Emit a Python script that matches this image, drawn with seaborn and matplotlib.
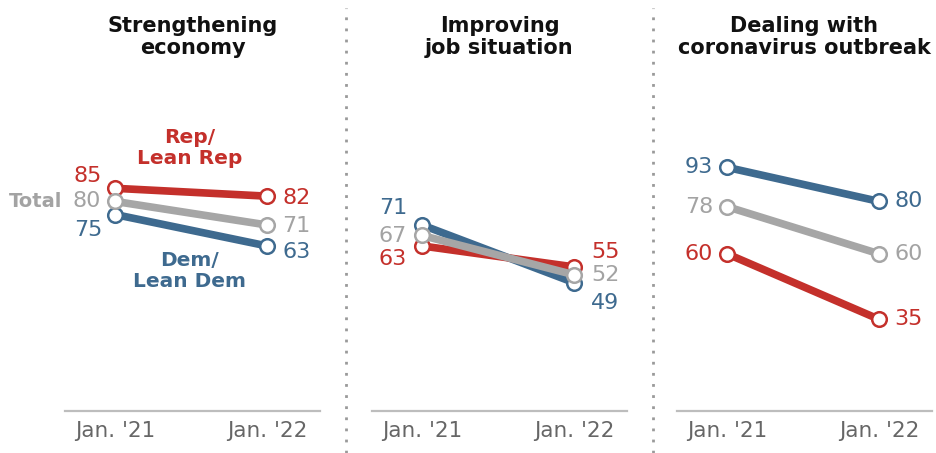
import matplotlib
matplotlib.use("Agg")
import matplotlib.pyplot as plt
from matplotlib.lines import Line2D
import seaborn as sns
import pandas as pd

# ---- data ----
titles = ["Strengthening\neconomy", "Improving\njob situation", "Dealing with\ncoronavirus outbreak"]
periods = ["Jan. '21", "Jan. '22"]
rep_values = [[85, 82], [63, 55], [60, 35]]
dem_values = [[75, 63], [71, 49], [93, 80]]
total_values = [[80, 71], [67, 52], [78, 60]]
series_names = ["Dem/Lean Dem", "Rep/Lean Rep", "Total"]

# ---- styling ----
sns.set_theme(style="white")
plt.rcParams["font.family"] = ["DejaVu Sans"]

colors = {"Rep/Lean Rep": "#C4302B", "Dem/Lean Dem": "#3E6A8F", "Total": "#A6A6A6"}
label_colors = {"Rep/Lean Rep": "#C4302B", "Dem/Lean Dem": "#3E6A8F", "Total": "#A3A3A3"}

# label offsets in pixels (dx, dy up) per panel / series / period
PX = 0.72
offsets = [
    {"Rep/Lean Rep": [(-13, 12), (15, -2)], "Total": [(-14, 0), (15, -1)], "Dem/Lean Dem": [(-13, -16), (15, -6)]},
    {"Rep/Lean Rep": [(-15, -13), (17, 15)], "Total": [(-15, -1), (17, 0)], "Dem/Lean Dem": [(-15, 17), (17, -20)]},
    {"Rep/Lean Rep": [(-14, 0), (15, 0)], "Total": [(-14, 0), (15, 0)], "Dem/Lean Dem": [(-14, 0), (15, 0)]},
]

rows = []
for p in range(3):
    for name, vals in zip(series_names, [dem_values, rep_values, total_values]):
        for i, per in enumerate(periods):
            rows.append({"panel": p, "series": name, "x": i, "period": per, "value": vals[p][i]})
df = pd.DataFrame(rows)

W, H = 936, 453
fig = plt.figure(figsize=(W / 100, H / 100), dpi=100)

lefts = [65, 372, 677]
pw = 255
bottom_px = 411
top_px = 60
ppx = [50, 202]  # pixel offsets of the two points in a panel
scale = (ppx[1] - ppx[0])
xl = (-ppx[0] / scale, 1 + (pw - ppx[1]) / scale)
ymax = (bottom_px - top_px) / 2.62

order = ["Dem/Lean Dem", "Rep/Lean Rep", "Total"]

for p in range(3):
    ax = fig.add_axes([lefts[p] / W, 1 - bottom_px / H, pw / W, (bottom_px - top_px) / H])
    sub = df[df.panel == p]
    for name in order:
        s = sub[sub.series == name]
        c = colors[name]
        sns.lineplot(data=s, x="x", y="value", ax=ax, color=c, linewidth=5.5,
                     marker="o", markersize=10.5, markeredgecolor=c,
                     markerfacecolor="white", markeredgewidth=1.8,
                     legend=False, solid_capstyle="butt", zorder=3)
        for i in range(2):
            dx, dy = offsets[p][name][i]
            ax.annotate(str(s.value.iloc[i]), (i, s.value.iloc[i]),
                        xytext=(dx * PX, dy * PX), textcoords="offset points",
                        ha="right" if i == 0 else "left", va="center",
                        fontsize=16, color=label_colors[name], zorder=5)
    ax.set_xlim(*xl)
    ax.set_ylim(0, ymax)
    ax.set_xticks([0, 1])
    ax.set_xticklabels(periods)
    ax.tick_params(axis="x", length=0, pad=7, labelsize=15.5, labelcolor="#666666")
    ax.set_yticks([])
    ax.set_xlabel("")
    ax.set_ylabel("")
    for sp in ["top", "left", "right"]:
        ax.spines[sp].set_visible(False)
    ax.spines["bottom"].set_color("#BDBDBD")
    ax.spines["bottom"].set_linewidth(1.6)
    ax.patch.set_alpha(0)
    fig.text((lefts[p] + pw / 2) / W, 1 - 37 / H, titles[p], ha="center", va="center",
             fontsize=15, fontweight="heavy", color="#111111", linespacing=1.15)

    if p == 0:
        ax.text(0.49, (bottom_px - 148) / 2.62, "Rep/\nLean Rep", ha="center", va="center",
                fontsize=14.5, fontweight="bold", color=colors["Rep/Lean Rep"], linespacing=1.15)
        ax.text(0.49, (bottom_px - 271) / 2.62, "Dem/\nLean Dem", ha="center", va="center",
                fontsize=14.5, fontweight="bold", color=colors["Dem/Lean Dem"], linespacing=1.15)
        ax.annotate("Total", (0, total_values[0][0]), xytext=(-53 * PX, 0), textcoords="offset points",
                    ha="right", va="center", fontsize=14, fontweight="bold",
                    color=label_colors["Total"], annotation_clip=False)

# dotted separators
for xs in [346, 653]:
    fig.add_artist(Line2D([xs / W, xs / W], [0, 1 - 8 / H], transform=fig.transFigure,
                          color="#9A9A9A", linewidth=2, linestyle=(0, (1, 3))))

fig.savefig("out.png", dpi=100)
